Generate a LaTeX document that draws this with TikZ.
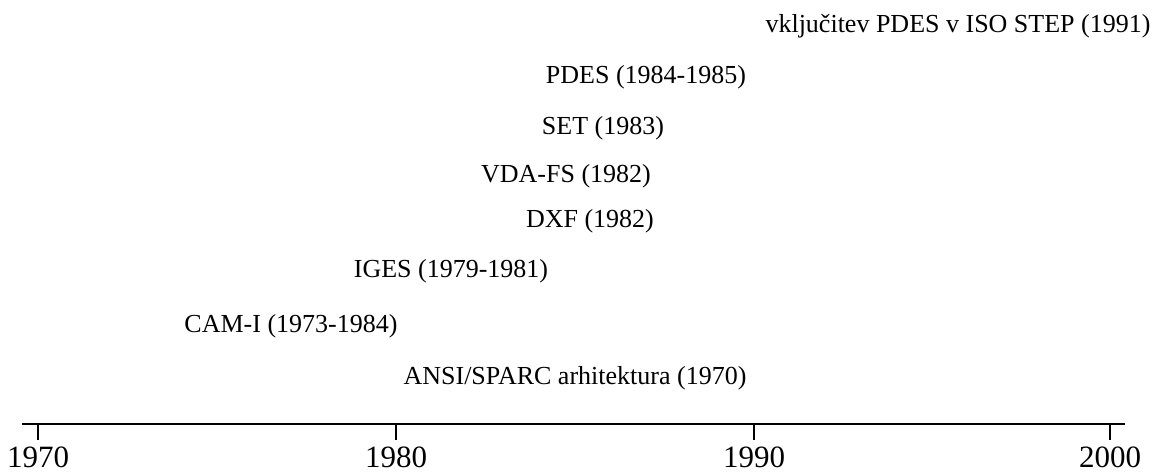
\documentclass[tikz,border=0pt]{standalone}
\usepackage{fontspec}
\setmainfont{Liberation Serif}
\usepackage{tikz}
\usetikzlibrary{positioning}

\begin{document}
\begin{tikzpicture}[x=1pt, y=1pt,
  event/.style={inner sep=0pt, font=\fontsize{26}{30}\selectfont},
  year/.style={anchor=north, inner sep=0pt, font=\fontsize{31}{36}\selectfont},
  axis/.style={line width=1.6pt},
]
  \useasboundingbox (0,0) rectangle (1165,473);
  % time axis
  \coordinate (axstart) at (22,49);
  \coordinate (axend) at (1125,49);
  \draw[axis] (axstart) -- (axend);
  \foreach \yr/\px in {1970/38, 1980/396, 1990/754, 2000/1110} {
    \coordinate (t\yr) at (\px,49);
    \draw[axis] (t\yr) -- ++(0,-16) coordinate (b\yr);
    \node[year, below=7pt of b\yr] (y\yr) {\yr};
  }
  % events
  \node[event] (ansi) at (575,95) {ANSI/SPARC arhitektura (1970)};
  \node[event] (cami) at (291,147) {CAM-I (1973-1984)};
  \node[event] (iges) at (451,202) {IGES (1979-1981)};
  \node[event] (dxf) at (590,252) {DXF (1982)};
  \node[event] (vdafs) at (566,297) {VDA-FS (1982)};
  \node[event] (set) at (603,345) {SET (1983)};
  \node[event] (pdes) at (646,396) {PDES (1984-1985)};
  \node[event] (step) at (958,447) {vključitev PDES v ISO STEP (1991)};
\end{tikzpicture}
\end{document}
